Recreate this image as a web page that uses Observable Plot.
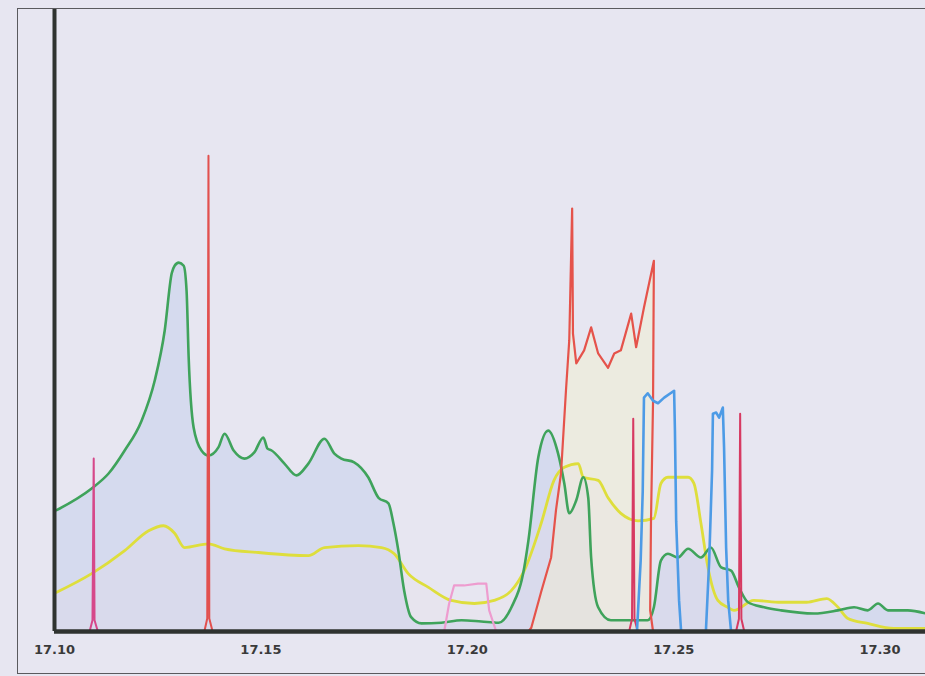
<!DOCTYPE html>
<html>
<head>
<meta charset="utf-8">
<script src="https://cdn.jsdelivr.net/npm/d3@7"></script>
<script src="https://cdn.jsdelivr.net/npm/@observablehq/plot@0.6"></script>
<style>
  html, body { margin: 0; padding: 0; background: #e7e6f1; overflow: hidden; }
  #wrap { position: relative; width: 925px; height: 676px; }
  #frame { position: absolute; left: 17px; top: 8px; width: 940px; height: 664px;
           border: 1.5px solid #5a5a5e; border-right: none; pointer-events: none; }
</style>
</head>
<body>
<div id="wrap"><div id="frame"></div></div>
<script>
// Wavelength ticks
const tickValues = [17.10, 17.15, 17.20, 17.25, 17.30];

// Green spectrum
const greenWave = [17.1005,17.1090,17.1131,17.1170,17.1211,17.1243,17.1267,17.1284,17.1291,17.1301,17.1313,17.1320,17.1325,17.1337,17.1356,17.1373,17.1397,17.1412,17.1434,17.1460,17.1484,17.1506,17.1516,17.1526,17.1557,17.1586,17.1615,17.1654,17.1678,17.1695,17.1726,17.1760,17.1785,17.1809,17.1821,17.1833,17.1847,17.1864,17.1889,17.1937,17.1986,17.2034,17.2076,17.2107,17.2138,17.2148,17.2172,17.2196,17.2220,17.2235,17.2247,17.2264,17.2281,17.2293,17.2300,17.2317,17.2348,17.2437,17.2452,17.2469,17.2486,17.2510,17.2535,17.2566,17.2590,17.2615,17.2639,17.2658,17.2680,17.2719,17.2760,17.2840,17.2898,17.2937,17.2970,17.2995,17.3019,17.3067,17.3111];
const greenInt  = [19.5,23.0,25.4,29.1,33.9,40.4,48.4,57.6,58.8,59.3,58.8,54.7,44.1,32.8,29.1,28.3,29.6,31.8,29.1,27.8,28.8,31.2,29.4,29.1,27.0,25.1,27.0,31.0,28.6,27.8,27.2,24.8,21.5,20.6,17.4,13.0,6.6,2.3,1.3,1.4,1.8,1.6,1.4,3.9,10.3,14.6,28.0,32.3,28.6,23.8,19.0,21.1,24.8,21.5,11.9,3.9,1.8,1.8,3.9,11.4,12.5,11.9,13.3,11.9,13.5,10.3,9.8,7.1,4.7,3.9,3.4,2.9,3.4,3.9,3.4,4.5,3.4,3.4,2.9];

// Yellow spectrum
const yellowWave = [17.1005,17.1090,17.1170,17.1228,17.1264,17.1291,17.1315,17.1373,17.1412,17.1494,17.1615,17.1654,17.1736,17.1792,17.1823,17.1857,17.1906,17.1961,17.2017,17.2065,17.2107,17.2138,17.2179,17.2210,17.2235,17.2269,17.2281,17.2317,17.2341,17.2372,17.2414,17.2452,17.2469,17.2486,17.2535,17.2549,17.2566,17.2583,17.2607,17.2631,17.2646,17.2694,17.2760,17.2822,17.2871,17.2898,17.2922,17.2970,17.3033,17.3111];
const yellowInt  = [6.3,9.3,13.0,16.2,17.0,15.8,13.5,14.1,13.3,12.7,12.2,13.5,13.8,13.5,12.5,9.3,7.1,5.0,4.5,5.0,6.6,9.8,17.4,24.3,26.4,27.0,24.8,24.3,21.5,19.0,17.8,18.2,23.8,24.8,24.8,23.8,17.4,10.3,5.0,3.9,3.4,5.0,4.7,4.7,5.3,3.9,2.1,1.3,0.5,0.5];

// Red band
const redWave = [17.2148,17.2155,17.2179,17.2203,17.2215,17.2227,17.2239,17.2247,17.2254,17.2256,17.2264,17.2283,17.2300,17.2317,17.2341,17.2356,17.2372,17.2397,17.2409,17.2428,17.2452,17.2450,17.2445,17.2443,17.2450];
const redInt  = [0,0.6,6.4,11.9,19.6,25.4,38.7,46.8,68.0,47.9,43.1,45.2,48.9,44.7,42.4,44.7,45.2,51.1,45.7,52.1,59.6,37.1,17.8,3.4,0];

// Narrow emission lines
const spikeA_W = [17.1085,17.1092,17.1095,17.1097,17.1105];
const spikeA_I = [0,1.8,27.8,1.8,0];
const spikeB_W = [17.1363,17.1370,17.1373,17.1375,17.1383];
const spikeB_I = [0,2.1,76.5,2.1,0];
const spikeC_W = [17.2392,17.2399,17.2402,17.2405,17.2413];
const spikeC_I = [0,2.0,34.2,2.0,0];
const spikeD_W = [17.2651,17.2658,17.2661,17.2664,17.2671];
const spikeD_I = [0,2.0,35.0,2.0,0];

// Blue bands
const blue1W = [17.2411,17.2420,17.2425,17.2428,17.2437,17.2450,17.2462,17.2477,17.2501,17.2503,17.2506,17.2513,17.2518];
const blue1I = [0,11.4,22.6,37.6,38.3,37.1,36.7,37.6,38.7,32.3,17.7,5.0,0];
const blue2W = [17.2578,17.2586,17.2593,17.2595,17.2603,17.2610,17.2619,17.2622,17.2627,17.2632,17.2639];
const blue2I = [0,11.4,25.9,35.0,35.2,34.4,36.0,29.6,13.5,5.0,0];

// Pink band
const pinkW = [17.1944,17.1956,17.1968,17.1992,17.2026,17.2046,17.2053,17.2070];
const pinkI = [0,4.5,7.4,7.4,7.7,7.7,3.4,0];

const zip = (w, v) => w.map((d, i) => ({w: d, v: v[i]}));
const green = zip(greenWave, greenInt);
const yellow = zip(yellowWave, yellowInt);
const red = zip(redWave, redInt);
const blue1 = zip(blue1W, blue1I);
const blue2 = zip(blue2W, blue2I);
const pink = zip(pinkW, pinkI);
const spikes = [
  {d: zip(spikeA_W, spikeA_I), c: "#d6488a"},
  {d: zip(spikeB_W, spikeB_I), c: "#e2504e"},
  {d: zip(spikeC_W, spikeC_I), c: "#d73a62"},
  {d: zip(spikeD_W, spikeD_I), c: "#d73a62"}
];

const chart = Plot.plot({
  width: 925,
  height: 676,
  marginLeft: 54,
  marginRight: 0,
  marginTop: 9,
  marginBottom: 45,
  style: {background: "transparent", fontFamily: "'DejaVu Sans', sans-serif", fontSize: "13px", fontWeight: "bold", color: "#3a3a3a"},
  x: {domain: [17.10, 17.311], ticks: tickValues, tickFormat: d => d.toFixed(2), tickSize: 0, tickPadding: 13, label: null},
  y: {domain: [0, 100], axis: null},
  marks: [
    Plot.areaY(green, {x: "w", y: "v", fill: "#c3cdec", fillOpacity: 0.5, curve: "monotone-x"}),
    Plot.areaY(red, {x: "w", y: "v", fill: "#f1eed2", fillOpacity: 0.55}),
    Plot.areaY(yellow, {x: "w", y: "v", fill: "#e9dde6", fillOpacity: 0.2, curve: "monotone-x"}),
    Plot.line(yellow, {x: "w", y: "v", stroke: "#dede3c", strokeWidth: 2.8, curve: "monotone-x"}),
    Plot.line(green, {x: "w", y: "v", stroke: "#3fa35b", strokeWidth: 2.6, curve: "monotone-x"}),
    Plot.line(pink, {x: "w", y: "v", stroke: "#ee9ccf", strokeWidth: 2.2}),
    Plot.line(red, {x: "w", y: "v", stroke: "#e5534b", strokeWidth: 2.2}),
    ...spikes.map(s => Plot.line(s.d, {x: "w", y: "v", stroke: s.c, strokeWidth: 2})),
    Plot.line(blue1, {x: "w", y: "v", stroke: "#4d9be6", strokeWidth: 2.6}),
    Plot.line(blue2, {x: "w", y: "v", stroke: "#4d9be6", strokeWidth: 2.6}),
    Plot.ruleY([0], {stroke: "#2f3330", strokeWidth: 4.5}),
    Plot.ruleX([17.10], {stroke: "#2f3330", strokeWidth: 4})
  ]
});
document.getElementById("wrap").prepend(chart);
</script>
</body>
</html>
